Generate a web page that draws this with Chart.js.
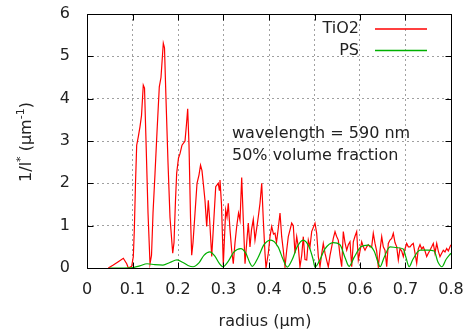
<!DOCTYPE html>
<html>
<head>
<meta charset="utf-8">
<script src="https://cdn.jsdelivr.net/npm/chart.js@4.4.1/dist/chart.umd.min.js"></script>
<style>
  html, body { margin: 0; padding: 0; background: #fff; }
  #c { display: block; }
</style>
</head>
<body>
<canvas id="c" width="464" height="330"></canvas>
<script>
// radius (µm) / 1/l* (µm^-1)
const tio2R = [0.0468, 0.0578, 0.0688, 0.0798, 0.0873, 0.0908, 0.0982, 0.1018, 0.104, 0.1066,
  0.1092, 0.1127, 0.1165, 0.1198, 0.1237, 0.1264, 0.1297, 0.1341, 0.1385, 0.1418,
  0.1451, 0.1495, 0.1538, 0.1589, 0.1626, 0.1677, 0.1703, 0.1736, 0.178, 0.1824,
  0.1884, 0.1912, 0.1945, 0.1971, 0.2011, 0.2044, 0.2088, 0.2154, 0.2187, 0.2213,
  0.2242, 0.2275, 0.2301, 0.233, 0.2374, 0.2418, 0.2462, 0.2495, 0.2527, 0.2556,
  0.2593, 0.2631, 0.2666, 0.2692, 0.2741, 0.278, 0.2829, 0.2886, 0.2908, 0.2923,
  0.2956, 0.2996, 0.3048, 0.3077, 0.3105, 0.3143, 0.318, 0.3215, 0.3253, 0.329,
  0.333, 0.3363, 0.34, 0.344, 0.3473, 0.351, 0.3545, 0.3582, 0.3615, 0.3655,
  0.3692, 0.373, 0.3765, 0.3802, 0.384, 0.3875, 0.3912, 0.3934, 0.3985, 0.4022,
  0.4059, 0.4099, 0.4132, 0.4165, 0.4204, 0.4242, 0.4279, 0.4314, 0.4352, 0.4389,
  0.4424, 0.4462, 0.4499, 0.4534, 0.4571, 0.4609, 0.4644, 0.4681, 0.4719, 0.4754,
  0.4791, 0.4829, 0.4864, 0.4901, 0.4938, 0.5011, 0.5048, 0.5084, 0.5121, 0.5154,
  0.5193, 0.5231, 0.5264, 0.5303, 0.5341, 0.5378, 0.5413, 0.5451, 0.5484, 0.5523,
  0.556, 0.5598, 0.5633, 0.567, 0.5708, 0.5743, 0.578, 0.5818, 0.5853, 0.589,
  0.5927, 0.5963, 0.6, 0.6037, 0.6073, 0.611, 0.6147, 0.6182, 0.622, 0.6257,
  0.6292, 0.633, 0.6367, 0.6402, 0.644, 0.6477, 0.6512, 0.6549, 0.6587, 0.6622,
  0.6659, 0.6697, 0.6732, 0.6769, 0.6807, 0.6842, 0.6879, 0.6916, 0.6952, 0.6989,
  0.7026, 0.7062, 0.7099, 0.7136, 0.7171, 0.7209, 0.7246, 0.7281, 0.7319, 0.7356,
  0.7391, 0.7429, 0.7466, 0.7501, 0.7538, 0.7576, 0.7611, 0.7648, 0.7686, 0.7721,
  0.7758, 0.7796, 0.7831, 0.7868, 0.7905, 0.7941, 0.7978, 0.8];
const tio2V = [0, 0.07, 0.15, 0.23, 0.1, 0.0, 0.04, 0.27, 0.9, 2.0,
  2.9, 3.1, 3.34, 3.6, 4.32, 4.25, 3.0, 1.3, 0.1, 0.3,
  1.3, 2.24, 3.2, 4.28, 4.5, 5.31, 5.2, 4.0, 2.5, 1.2,
  0.35, 0.6, 1.6, 2.24, 2.6, 2.7, 2.9, 3.0, 3.4, 3.76,
  2.9, 1.2, 0.3, 0.6, 1.3, 2.0, 2.2, 2.43, 2.3, 2.0,
  1.6, 0.98, 1.6, 1.2, 0.27, 1.0, 1.92, 2.0, 1.84, 2.08,
  1.5, 0.07, 1.37, 1.2, 1.53, 0.9, 0.42, 0.1, 0.6, 0.98,
  1.3, 1.13, 2.14, 1.0, 0.1, 0.6, 1.06, 0.5, 0.9, 1.15,
  0.66, 0.94, 1.21, 1.53, 2.0, 1.13, 0.35, 0.0, 0.35, 0.74,
  0.98, 0.8, 0.82, 0.6, 0.94, 1.3, 0.74, 0.42, 0.03, 0.42,
  0.74, 0.9, 1.06, 1.0, 0.35, 0.74, 0.5, 0.03, 0.3, 0.74,
  0.2, 0.19, 0.66, 0.5, 0.86, 1.06, 0.82, 0.27, 0.03, 0.3,
  0.58, 0.35, 0.2, 0.03, 0.3, 0.5, 0.7, 0.86, 0.75, 0.66,
  0.3, 0.03, 0.86, 0.6, 0.42, 0.55, 0.62, 0.03, 0.62, 0.75,
  0.86, 0.19, 0.4, 0.62, 0.5, 0.42, 0.5, 0.55, 0.5, 0.5,
  0.82, 0.58, 0.4, 0.03, 0.42, 0.74, 0.5, 0.42, 0.03, 0.58,
  0.66, 0.7, 0.82, 0.6, 0.5, 0.19, 0.46, 0.4, 0.27, 0.45,
  0.58, 0.5, 0.5, 0.55, 0.58, 0.35, 0.11, 0.45, 0.55, 0.45,
  0.5, 0.4, 0.27, 0.35, 0.42, 0.5, 0.58, 0.35, 0.58, 0.4,
  0.27, 0.35, 0.42, 0.38, 0.46, 0.4, 0.5, 0.55];

const psR = [0.05, 0.073, 0.101, 0.116, 0.132, 0.149, 0.167, 0.182, 0.198, 0.211,
  0.222, 0.233, 0.246, 0.257, 0.270, 0.281, 0.290, 0.299, 0.310, 0.323,
  0.338, 0.349, 0.358, 0.363, 0.376, 0.389, 0.404, 0.42, 0.431, 0.440,
  0.451, 0.462, 0.475, 0.488, 0.497, 0.501, 0.51, 0.523, 0.541, 0.556,
  0.567, 0.576, 0.587, 0.602, 0.618, 0.631, 0.640, 0.644, 0.653, 0.666,
  0.681, 0.695, 0.701, 0.708, 0.716, 0.732, 0.749, 0.763, 0.771, 0.78,
  0.789, 0.8];
const psV = [0, 0, 0.01, 0.05, 0.1, 0.08, 0.07, 0.13, 0.19, 0.13,
  0.06, 0.03, 0.12, 0.3, 0.38, 0.28, 0.12, 0.03, 0.15, 0.38,
  0.46, 0.35, 0.12, 0.04, 0.25, 0.55, 0.66, 0.5, 0.2, 0.02,
  0.2, 0.5, 0.66, 0.5, 0.2, 0.02, 0.15, 0.45, 0.6, 0.55,
  0.25, 0.04, 0.25, 0.5, 0.54, 0.4, 0.12, 0.03, 0.25, 0.5,
  0.48, 0.45, 0.25, 0.03, 0.2, 0.42, 0.42, 0.4, 0.15, 0.03,
  0.2, 0.35];

const xTicks = [0, 0.1, 0.2, 0.3, 0.4, 0.5, 0.6, 0.7, 0.8];
const yTicks = [0, 1, 2, 3, 4, 5, 6];

const FONT = 'DejaVu Sans';
const TXT = '#222';
const RED = '#ff0000';
const GREEN = '#00b000';

const toPts = (xs, ys) => xs.map((x, i) => ({ x, y: ys[i] }));

// 눈금 라벨이 plot 영역을 밀어내지 않게
const noPad = s => { s.paddingTop = 0; s.paddingBottom = 0; s.paddingLeft = 0; s.paddingRight = 0; };

// gnuplot 스타일 테두리, 안쪽 눈금, 범례, 글씨
const gnuFrame = {
  id: 'gnuFrame',
  afterDraw(chart) {
    const { ctx, chartArea: { left, right, top, bottom } } = chart;
    const xs = chart.scales.x, ys = chart.scales.y;
    const L = Math.round(left) + 0.5, R = Math.round(right) + 0.5;
    const T = Math.round(top) + 0.5, B = Math.round(bottom) + 0.5;
    ctx.save();
    ctx.strokeStyle = '#000';
    ctx.lineWidth = 1;
    ctx.beginPath();
    ctx.rect(L, T, R - L, B - T);
    // inward tics on all four sides
    for (const v of xTicks) {
      const px = Math.round(xs.getPixelForValue(v)) + 0.5;
      ctx.moveTo(px, B); ctx.lineTo(px, B - 6);
      ctx.moveTo(px, T); ctx.lineTo(px, T + 6);
    }
    for (const v of yTicks) {
      const py = Math.round(ys.getPixelForValue(v)) + 0.5;
      ctx.moveTo(L, py); ctx.lineTo(L + 6, py);
      ctx.moveTo(R, py); ctx.lineTo(R - 6, py);
    }
    ctx.stroke();

    // legend
    ctx.font = `16px "${FONT}"`;
    ctx.fillStyle = TXT;
    ctx.textAlign = 'right';
    ctx.textBaseline = 'middle';
    const items = [['TiO2', RED, 29], ['PS', GREEN, 50.5]];
    for (const [name, col, y] of items) {
      ctx.fillText(name, 359, y);
      ctx.strokeStyle = col;
      ctx.lineWidth = 1.3;
      ctx.beginPath();
      ctx.moveTo(375, y); ctx.lineTo(427, y);
      ctx.stroke();
    }

    // annotation
    ctx.textAlign = 'left';
    ctx.textBaseline = 'alphabetic';
    ctx.fillText('wavelength = 590 nm', 232, 138);
    ctx.fillText('50% volume fraction', 232, 160);

    // x title
    ctx.textAlign = 'center';
    ctx.fillText('radius (µm)', 265, 326);

    // y title with superscripts, rotated
    const parts = [['1/l', 16, 0], ['*', 11, -7], [' (µm', 16, 0], ['-1', 11, -7], [')', 16, 0]];
    let w = 0;
    for (const [s, f] of parts) { ctx.font = `${f}px "${FONT}"`; w += ctx.measureText(s).width; }
    ctx.translate(31, 142);
    ctx.rotate(-Math.PI / 2);
    ctx.textAlign = 'left';
    let x0 = -w / 2;
    for (const [s, f, dy] of parts) {
      ctx.font = `${f}px "${FONT}"`;
      ctx.fillText(s, x0, dy);
      x0 += ctx.measureText(s).width;
    }
    ctx.restore();
  },
};

new Chart(document.getElementById('c'), {
  type: 'scatter',
  data: {
    datasets: [
      { label: 'TiO2', data: toPts(tio2R, tio2V), showLine: true, borderColor: RED, borderWidth: 1.2,
        pointRadius: 0, tension: 0, order: 1 },
      { label: 'PS', data: toPts(psR, psV), showLine: true, borderColor: GREEN, borderWidth: 1.2,
        pointRadius: 0, tension: 0.35, cubicInterpolationMode: 'monotone', order: 0 },
    ],
  },
  options: {
    responsive: false,
    animation: false,
    devicePixelRatio: 1,
    layout: { padding: { left: 0, right: 13, top: 14, bottom: 0 } },
    plugins: { legend: { display: false }, tooltip: { enabled: false } },
    scales: {
      x: {
        type: 'linear', min: 0, max: 0.8,
        afterBuildTicks: s => { s.ticks = xTicks.map(value => ({ value })); },
        afterFit: s => { s.height = 62; noPad(s); },
        ticks: { padding: 12, color: TXT, font: { family: FONT, size: 16 },
          callback: v => String(+v.toFixed(1)) },
        grid: { color: '#a0a0a0', drawTicks: false, lineWidth: 1 },
        border: { display: false, dash: [2, 3] },
      },
      y: {
        type: 'linear', min: 0, max: 6,
        afterBuildTicks: s => { s.ticks = yTicks.map(value => ({ value })); },
        afterFit: s => { s.width = 87; noPad(s); },
        ticks: { padding: 17, color: TXT, font: { family: FONT, size: 16 } },
        grid: { color: '#a0a0a0', drawTicks: false, lineWidth: 1 },
        border: { display: false, dash: [2, 3] },
      },
    },
  },
  plugins: [gnuFrame],
});
</script>
</body>
</html>
